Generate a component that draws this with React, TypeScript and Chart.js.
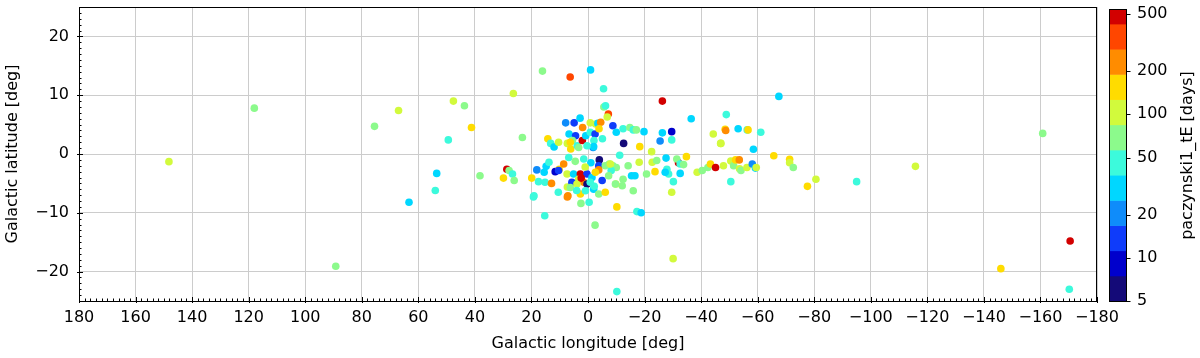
import React, { useEffect, useRef } from "react";
import { Chart, registerables } from "chart.js";

Chart.register(...registerables);

// ---------- data (galactic longitude [deg], latitude [deg], tE [days]) ----------
const lonOuter = [148.2, 118.0, 89.2, 75.5, 67.0, 47.6, 43.7, 41.2, 49.4, 53.5, 54.0, 63.3, 38.2];
const latOuter = [-1.3, 7.8, -19.1, 4.7, 7.4, 9.0, 8.2, 4.5, 2.4, -3.3, -6.2, -8.2, -3.7];
const tEOuter = [100, 70, 70, 70, 100, 100, 70, 150, 45, 30, 45, 30, 70];

const lonRight = [-67.5, -48.9, -48.5, -48.7, -53.1, -56.3, -56.6, -61.1, -58.5, -47.0,
  -47.9, -50.5, -51.5, -52.2, -53.5, -53.6, -54.1, -56.2, -58.1, -59.2,
  -59.5, -50.5, -65.7, -71.3, -71.3, -72.6, -77.6, -80.6, -95.0, -115.8,
  -160.8, -170.5, -146.0, -170.2];
const latRight = [9.8, 6.7, 4.2, 4.0, 4.3, 4.1, 4.1, 3.7, 0.8, 1.8,
  -2.0, -1.2, -2.0, -1.0, -1.0, -2.5, -2.8, -2.3, -1.7, -2.4,
  -2.3, -4.7, -0.3, -0.9, -1.5, -2.3, -5.5, -4.3, -4.7, -2.1,
  3.5, -14.8, -19.5, -23.0];
const tERight = [30, 45, 150, 230, 30, 45, 150, 45, 30, 100,
  100, 100, 70, 150, 230, 100, 70, 100, 17, 30,
  100, 45, 150, 150, 100, 70, 150, 100, 45, 100,
  70, 480, 150, 45];

const lonHigh = [26.4, 16.1, 6.3, -0.9, -5.5, -26.3, 15.3, -2.5, -10.2, -17.3,
  -18.8, -30.1, -10.2, 2.5, -0.4, 7.3, 19.3];
const latHigh = [10.3, 14.1, 13.1, 14.3, 11.1, 9.0, -10.5, -12.1, -9.0, -9.8,
  -10.0, -17.8, -23.4, -8.4, -8.2, -7.3, -7.3];
const tEHigh = [100, 70, 350, 30, 45, 480, 45, 70, 150, 45,
  30, 100, 45, 70, 45, 230, 45];

const lonUpper = [23.2, 14.2, 13.2, 12.0, 7.9, 4.9, 2.8, 1.9, 6.7, 4.4,
  5.5, 7.3, 6.1, 3.8, 2.0, 0.8, -0.8, -0.8, -2.5, -2.1,
  -1.8, -2.7, -3.5, -4.5, -3.9, -5.6, -6.2, -7.2, -6.8, -8.8,
  -5.1, 10.4, 6.25, -2.0, 0.35, 3.3];
const latUpper = [2.8, 2.6, 1.8, 1.2, 5.3, 5.3, 6.1, 4.5, 3.4, 3.1,
  2.3, 1.8, 0.85, 1.4, 2.3, 3.1, 3.7, 5.3, 3.4, 2.3,
  1.1, 5.1, 5.2, 5.4, 4.3, 8.0, 8.2, 6.8, 6.3, 4.8,
  2.6, 2.0, 2.0, 1.25, 1.4, 1.1];
const tEUpper = [70, 150, 45, 30, 20, 12, 30, 230, 30, 14,
  70, 100, 150, 45, 480, 30, 45, 100, 14, 45,
  20, 100, 30, 230, 150, 70, 45, 350, 100, 12,
  45, 100, 150, 30, 45, 70];

const lonEast = [-36.5, -10.0, -12.4, -14.8, -16.0, -17.1, -19.8, -12.6, -18.3, -22.5,
  -26.3, -29.6, -25.5, -29.6, -44.3, -46.9, -11.2, -8.8, -10.0, -8.2,
  -14.2, -18.1, -12.4, -12.1, -9.8, -15.4, -16.6, -16.0, -20.7, -22.7,
  -24.3, -23.7, -27.6, -27.9, -28.5, -27.3, -30.2, -29.6, -32.0, -31.4,
  -32.6, -33.8, -34.8, -32.6, -38.6, -40.4, -42.4, -43.3, -45.1, -7.5];
const latEast = [6.0, 3.7, 4.3, 4.5, 4.1, 4.1, 3.8, 1.8, 1.25, 0.4,
  3.6, 3.8, 2.2, 2.4, 3.4, 1.8, -0.2, -2.0, -2.3, -2.8,
  -2.0, -1.4, -4.3, -5.4, -5.1, -3.7, -3.7, -6.25, -3.4, -1.4,
  -1.1, -3.0, -0.7, -2.6, -3.4, -3.1, -4.7, -6.5, -1.5, -0.85,
  -1.7, -1.8, -0.45, -3.3, -3.1, -2.8, -2.3, -1.7, -2.3, -1.7];
const tEEast = [30, 30, 45, 70, 45, 70, 30, 6, 150, 100,
  30, 10, 20, 45, 100, 100, 45, 70, 70, 45,
  70, 100, 70, 70, 100, 30, 30, 70, 70, 100,
  70, 150, 30, 45, 45, 30, 45, 100, 480, 70,
  45, 70, 150, 30, 100, 70, 70, 150, 480, 70];

const lonCore = [28.7, 27.9, 26.7, 26.1, 29.9, 19.9, 18.1, 17.5, 15.2, 15.5,
  14.8, 13.8, 11.6, 10.2, 12.9, 19.1, 7.3, 10.5, 6.8, 8.6,
  4.5, 1.5, -4.0, -3.8, -6.1, -3.8, -7.9, 10.4, 7.4, 5.1,
  2.7, 0.35, -1.4, -2.6, 3.3, 5.7, 1.5, 0.35, -0.8, -5.0,
  -7.3, -9.7, 7.1, 2.7, 0.9, -2.0, -3.8, -6.1, 6.25, 3.9,
  2.4, -1.0, 1.0, -2.2, 4.0];
const latCore = [-2.6, -2.8, -3.4, -4.5, -4.1, -4.1, -2.7, -4.7, -4.8, -3.1,
  -2.1, -1.4, -3.0, -2.6, -5.0, -7.1, -5.6, -6.5, -0.6, -1.7,
  -1.25, -0.85, -1.0, -2.0, -2.0, -2.7, -1.7, -2.8, -3.4, -3.4,
  -3.4, -3.4, -4.0, -3.1, -4.3, -4.8, -4.8, -5.1, -4.8, -4.5,
  -3.7, -5.1, -7.1, -6.8, -6.25, -6.0, -6.8, -6.5, -5.7, -5.1,
  -4.1, -1.5, -2.2, -5.5, -6.2];
const tECore = [480, 70, 45, 70, 150, 150, 20, 45, 45, 30,
  30, 45, 10, 150, 230, 45, 100, 45, 45, 230,
  70, 45, 6, 14, 70, 230, 100, 14, 100, 30,
  480, 14, 30, 150, 100, 14, 230, 6, 45, 14,
  70, 70, 230, 150, 45, 30, 70, 150, 70, 100,
  480, 30, 100, 45, 45];

const lon = [...lonOuter, ...lonRight, ...lonHigh, ...lonUpper, ...lonEast, ...lonCore];
const lat = [...latOuter, ...latRight, ...latHigh, ...latUpper, ...latEast, ...latCore];
const tE = [...tEOuter, ...tERight, ...tEHigh, ...tEUpper, ...tEEast, ...tECore];

// axis ticks
const yTicks = [-20, -10, 0, 10, 20];
const cbTicks = [5, 10, 20, 50, 100, 200, 500];

// colour bar
const CB_MIN = 5;
const CB_TOP = 540;
const CB_AXIS_MAX = 560;
const CB_BAND_DEC = 0.1756;
const PALETTE = [
  "#140a78", "#0000cc", "#0f3cfa", "#0f8cfa", "#00d7ff", "#3cfadc",
  "#8cfa8c", "#d2fa3c", "#ffdc00", "#ff8c00", "#ff4600", "#d20000",
];

function colorFor(v: number): string {
  const k = Math.floor(Math.log10(v / CB_MIN) / CB_BAND_DEC);
  return PALETTE[Math.max(0, Math.min(PALETTE.length - 1, k))];
}

const FONT = "'DejaVu Sans', 'Liberation Sans', sans-serif";
const FS = 16;
const GRID = "#cccccc";
const fmt = (v: any) => {
  const n = Number(v);
  return n < 0 ? "\u2212" + Math.abs(n) : String(n);
};

function noPad(s: any) {
  s.paddingTop = 0;
  s.paddingBottom = 0;
  s.paddingLeft = 0;
  s.paddingRight = 0;
}

const decorPlugin = {
  id: "decor",
  afterDatasetsDraw(chart: any) {
    const { ctx, chartArea: a, scales } = chart;
    const xs = scales.x;
    const ys = scales.y;
    const cs = scales.cb;
    ctx.save();
    ctx.strokeStyle = "#000";
    ctx.lineWidth = 1;
    ctx.beginPath();
    for (let v = -180; v <= 180; v += 2) {
      const px = Math.round(xs.getPixelForValue(v)) + 0.5;
      const major = v % 20 === 0;
      ctx.moveTo(px, a.bottom + (major ? 2 : 0));
      ctx.lineTo(px, a.bottom - (major ? 4 : 2.5));
    }
    for (let v = -25; v <= 25; v += 1) {
      const py = Math.round(ys.getPixelForValue(v)) + 0.5;
      const major = v % 10 === 0;
      ctx.moveTo(a.left - (major ? 2 : 0), py);
      ctx.lineTo(a.left + (major ? 4 : 2.5), py);
    }
    ctx.stroke();
    const L = Math.round(a.left) + 0.5;
    const T = Math.round(a.top) + 0.5;
    const R = Math.round(a.right) - 0.5;
    const B = Math.round(a.bottom) + 0.5;
    ctx.strokeRect(L, T, R - L, B - T);

    // colour bar
    const cbL = Math.round(a.right) + 12;
    const cbW = 17;
    for (let k = 0; k < PALETTE.length; k++) {
      const lo = CB_MIN * Math.pow(10, k * CB_BAND_DEC);
      const hi = Math.min(CB_MIN * Math.pow(10, (k + 1) * CB_BAND_DEC), CB_TOP);
      if (lo >= CB_TOP) break;
      const y1 = cs.getPixelForValue(lo);
      const y2 = cs.getPixelForValue(hi);
      ctx.fillStyle = PALETTE[k];
      ctx.fillRect(cbL, y2, cbW, y1 - y2 + 0.5);
    }
    const yTop = Math.round(cs.getPixelForValue(CB_TOP)) + 0.5;
    const yBot = Math.round(cs.getPixelForValue(CB_MIN)) + 0.5;
    ctx.strokeRect(cbL + 0.5, yTop, cbW, yBot - yTop);
    ctx.beginPath();
    for (const t of cbTicks) {
      const py = Math.round(cs.getPixelForValue(t)) + 0.5;
      ctx.moveTo(cbL + cbW + 0.5, py);
      ctx.lineTo(cbL + cbW + 4.5, py);
    }
    ctx.stroke();

    ctx.fillStyle = "#000";
    ctx.font = FS + "px " + FONT;
    ctx.textAlign = "center";
    ctx.textBaseline = "middle";
    ctx.translate(1188, (yTop + yBot) / 2);
    ctx.rotate(-Math.PI / 2);
    ctx.fillText("paczynski1_tE [days]", 0, 0);
    ctx.restore();
  },
};

export default function App() {
  const ref = useRef<HTMLCanvasElement | null>(null);

  useEffect(() => {
    document.body.style.margin = "0";
    Chart.defaults.font.family = FONT;
    Chart.defaults.font.size = FS;
    Chart.defaults.color = "#000";
    const points = lon.map((x, i) => ({ x, y: lat[i] }));
    const colors = tE.map(colorFor);
    const chart = new Chart(ref.current as HTMLCanvasElement, {
      type: "scatter",
      data: {
        datasets: [
          {
            data: points,
            backgroundColor: colors,
            borderWidth: 0,
            pointRadius: 3.8,
            pointHoverRadius: 3.8,
          },
        ],
      },
      options: {
        responsive: false,
        animation: false,
        events: [],
        layout: { padding: { top: 7, left: 0, right: 0, bottom: 0 }, autoPadding: false },
        plugins: { legend: { display: false }, tooltip: { enabled: false } },
        scales: {
          x: {
            type: "linear",
            min: -180,
            max: 180,
            reverse: true,
            grid: { color: GRID, lineWidth: 1, drawTicks: false },
            border: { display: false },
            ticks: { stepSize: 20, padding: 7, maxRotation: 0, autoSkip: false, callback: fmt, font: { size: FS } },
            title: {
              display: true,
              text: "Galactic longitude [deg]",
              font: { size: FS },
              padding: { top: 0, bottom: 5 },
            },
            afterFit: (s: any) => {
              s.height = 57;
              noPad(s);
            },
          },
          y: {
            type: "linear",
            min: -25,
            max: 25,
            grid: { color: GRID, lineWidth: 1, drawTicks: false },
            border: { display: false },
            ticks: { padding: 10, callback: fmt, font: { size: FS } },
            afterBuildTicks: (s: any) => {
              s.ticks = yTicks.map((v) => ({ value: v }));
            },
            title: {
              display: true,
              text: "Galactic latitude [deg]",
              font: { size: FS },
              padding: { top: 3, bottom: 0 },
            },
            afterFit: (s: any) => {
              s.width = 79;
              noPad(s);
            },
          },
          cb: {
            type: "logarithmic",
            position: "right",
            min: CB_MIN,
            max: CB_AXIS_MAX,
            grid: { display: false, drawTicks: false },
            border: { display: false },
            ticks: { padding: 40, font: { size: FS }, callback: (v: any) => String(v) },
            afterBuildTicks: (s: any) => {
              s.ticks = cbTicks.map((v) => ({ value: v }));
            },
            afterFit: (s: any) => {
              s.width = 103;
              noPad(s);
            },
          },
        },
      } as any,
      plugins: [decorPlugin],
    });
    return () => chart.destroy();
  }, []);

  return (
    <div style={{ width: 1200, height: 358 }}>
      <canvas ref={ref} width={1200} height={358} />
    </div>
  );
}
